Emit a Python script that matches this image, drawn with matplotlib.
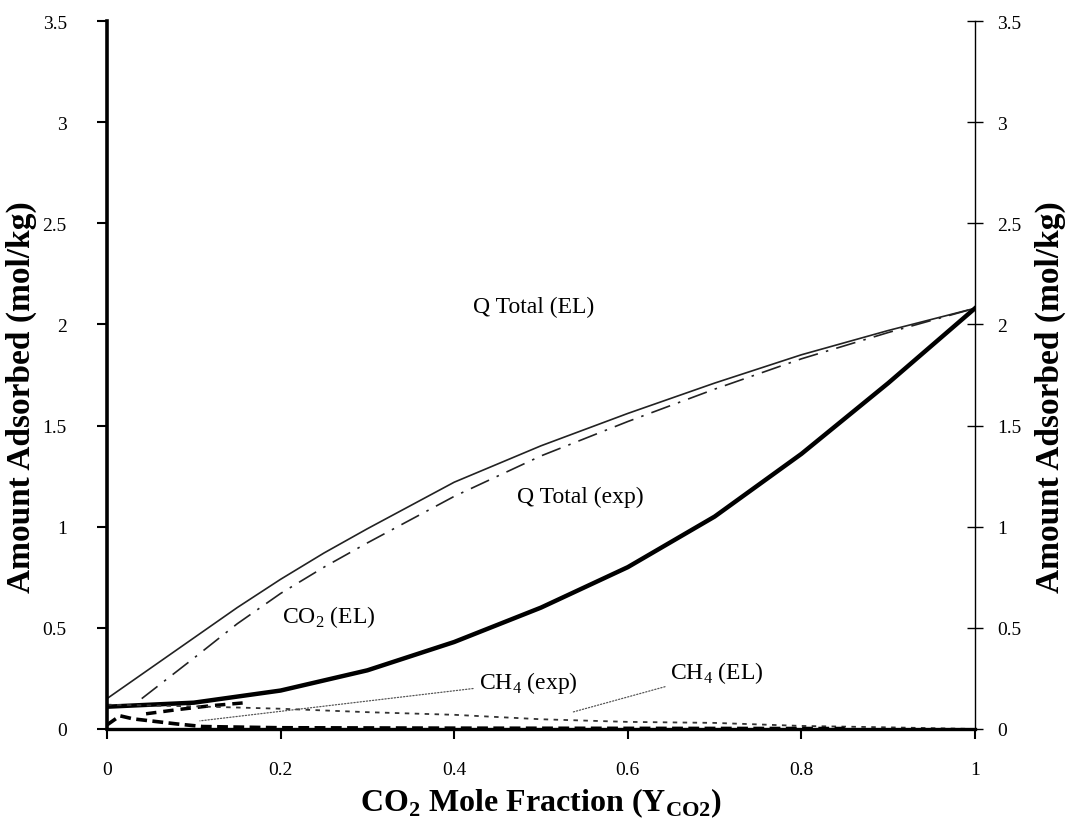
import numpy as np
import matplotlib.pyplot as plt

plt.rcParams['font.family'] = 'Liberation Serif'
plt.rcParams['mathtext.fontset'] = 'custom'
plt.rcParams['mathtext.rm'] = 'Liberation Serif'
plt.rcParams['mathtext.bf'] = 'Liberation Serif:bold'

# CO2 mole fraction in the gas phase
y_co2 = [0.0, 0.1, 0.2, 0.3, 0.4, 0.5, 0.6, 0.7, 0.8, 0.9, 1.0]

# Extended Langmuir predictions (mol/kg)
q_total_el_x = [0.0, 0.05, 0.1, 0.15, 0.2, 0.25, 0.3, 0.4, 0.5, 0.6, 0.7, 0.8, 0.9, 1.0]
q_total_el = [0.15, 0.30, 0.45, 0.60, 0.74, 0.87, 0.99, 1.22, 1.40, 1.56, 1.71, 1.85, 1.97, 2.08]
co2_el_x = [0.04, 0.1, 0.15, 0.2, 0.25, 0.3, 0.4, 0.5, 0.6, 0.7, 0.8, 0.9, 1.0]
co2_el = [0.15, 0.35, 0.52, 0.67, 0.80, 0.92, 1.15, 1.35, 1.52, 1.68, 1.83, 1.96, 2.08]
ch4_el = [0.12, 0.112, 0.10, 0.083, 0.07, 0.048, 0.035, 0.03, 0.015, 0.008, 0.0]

# Experimental values (mol/kg)
q_total_exp = [0.11, 0.13, 0.19, 0.29, 0.43, 0.60, 0.80, 1.05, 1.36, 1.71, 2.08]
co2_exp_x = [0.045, 0.08, 0.12, 0.16]
co2_exp = [0.075, 0.095, 0.115, 0.13]
ch4_exp_x = [0.0, 0.015, 0.03, 0.05, 0.08, 0.11, 0.2, 0.4, 0.6, 0.85]
ch4_exp = [0.02, 0.065, 0.05, 0.04, 0.025, 0.012, 0.006, 0.004, 0.003, 0.002]

fig, ax = plt.subplots(figsize=(10.71, 8.28), dpi=100)
fig.subplots_adjust(left=0.0999, right=0.9104, bottom=0.1184, top=0.9734)

ax.plot(q_total_el_x, q_total_el, color='#222222', lw=1.2)
ax.plot(co2_el_x, co2_el, color='#222222', lw=1.2, linestyle=(0, (12, 5, 1.5, 5)))
ax.plot(y_co2, q_total_exp, color='black', lw=3.2)
ax.plot(co2_exp_x, co2_exp, color='black', lw=2.5, linestyle=(0, (3, 2)))
ax.plot(y_co2, ch4_el, color='#333333', lw=1.3, linestyle=(0, (2.5, 3)))
ax.plot(ch4_exp_x, ch4_exp, color='black', lw=2.6, linestyle=(0, (3, 1.5)))

# curve labels
lab = dict(fontsize=17, ha='center', va='center')
ax.text(0.491, 2.09, 'Q Total (EL)', **lab)
ax.text(0.545, 1.15, 'Q Total (exp)', **lab)
ax.text(0.256, 0.56, 'CO$_2$ (EL)', **lab)
leader = dict(arrowstyle='-', color='#555555', lw=0.9, linestyle=(0, (1, 1.5)),
              shrinkA=2, shrinkB=0)
ax.annotate('CH$_4$ (exp)', xy=(0.107, 0.04), xytext=(0.485, 0.232),
            arrowprops=leader, **lab)
ax.annotate('CH$_4$ (EL)', xy=(0.537, 0.084), xytext=(0.703, 0.28),
            arrowprops=leader, **lab)

ax.set_xlim(0, 1)
ax.set_ylim(0, 3.5)
ax.set_xticks([0, 0.2, 0.4, 0.6, 0.8, 1])
ax.set_xticklabels(['0', '0.2', '0.4', '0.6', '0.8', '1'])
ax.set_yticks(np.arange(0, 3.51, 0.5))
ax.set_yticklabels(['0', '0.5', '1', '1.5', '2', '2.5', '3', '3.5'])
ax.tick_params(axis='both', direction='out', length=7, width=1.5, labelsize=14, pad=16)
ax.tick_params(axis='y', pad=22)

for side in ['top', 'right']:
    ax.spines[side].set_visible(False)
ax.spines['left'].set_linewidth(2.6)
ax.spines['bottom'].set_linewidth(2.4)

ax.set_xlabel('CO$_\\mathbf{2}$ Mole Fraction (Y$_\\mathbf{CO2}$)',
              fontsize=23, fontweight='bold')
ax.xaxis.set_label_coords(0.5, -0.08)
ax.set_ylabel('Amount Adsorbed (mol/kg)', fontsize=24, fontweight='bold')
ax.yaxis.set_label_coords(-0.081, 0.47)

# secondary axis on the right with the same scale
ax2 = ax.twinx()
ax2.set_ylim(0, 3.5)
ax2.set_yticks(np.arange(0, 3.51, 0.5))
ax2.set_yticklabels(['0', '0.5', '1', '1.5', '2', '2.5', '3', '3.5'])
ax2.tick_params(axis='y', direction='inout', length=12, width=1.0, labelsize=14, pad=10)
for side in ['top', 'left', 'bottom']:
    ax2.spines[side].set_visible(False)
ax2.spines['right'].set_linewidth(1.0)
ax2.set_ylabel('Amount Adsorbed (mol/kg)', fontsize=24, fontweight='bold', rotation=90)
ax2.yaxis.set_label_coords(1.069, 0.47)

fig.savefig('out.png', dpi=100)
